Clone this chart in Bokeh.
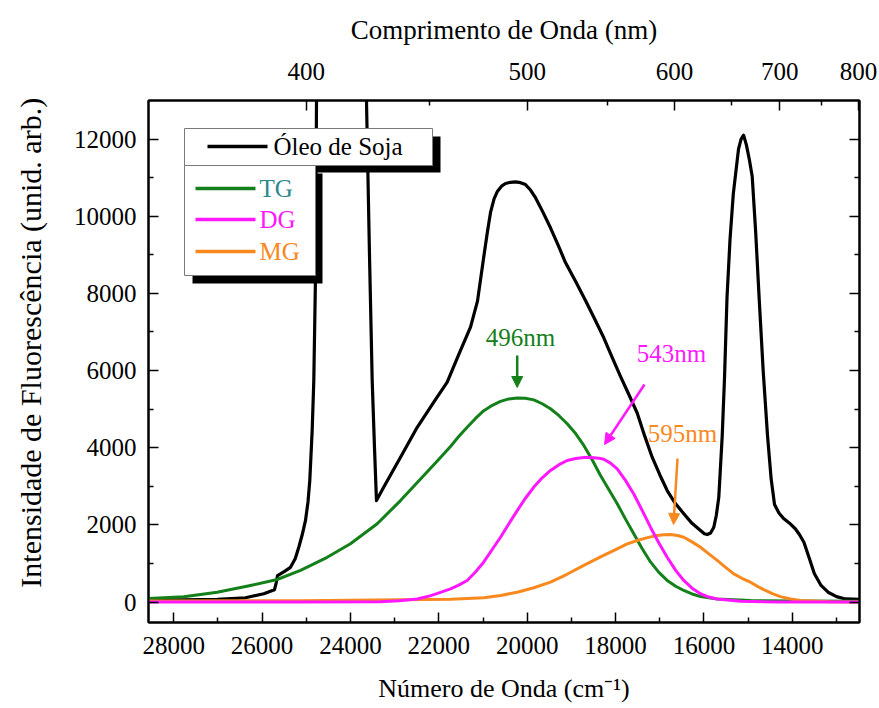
from bokeh.plotting import figure
from bokeh.models import (Range1d, LinearAxis, FixedTicker, CustomJSTickFormatter,
                          Arrow, NormalHead, Label, BoxAnnotation)
from bokeh.embed import file_html
from bokeh.resources import INLINE

FONT = "Liberation Serif"

# ---------------- data ----------------
soy_x = [28570, 27771, 27015, 26375, 25961, 25719, 25680, 25650, 25500, 25357, 25250, 25169,
         25090, 25017, 24960, 24920, 24866, 24829, 24790, 24768, 24650, 24200, 23750, 23637,
         23569, 23508, 23456, 23411, 23245, 22867, 22489, 22114, 21810, 21555, 21283, 21125,
         20989, 20900, 20830, 20750, 20672, 20580, 20491, 20380, 20265, 20150, 20039, 19925,
         19812, 19650, 19473, 19300, 19134, 18900, 18681, 18470, 18267, 18080, 17889, 17700,
         17511, 17340, 17172, 17000, 16832, 16650, 16456, 16270, 16078, 15990, 15926, 15850,
         15777, 15720, 15664, 15587, 15535, 15478, 15410, 15336, 15218, 15160, 15103, 15040,
         14970, 14908, 14830, 14752, 14660, 14562, 14480, 14403, 14300, 14204, 14070, 13933,
         13840, 13738, 13620, 13503, 13350, 13191, 13000, 12801, 12480]
soy_y = [60, 60, 70, 110, 215, 320, 500, 685, 790, 900, 1120, 1420,
         1750, 2115, 2600, 3150, 4450, 5750, 8500, 13000, 16500, 20000, 16500, 13000,
         9000, 5750, 4010, 2630, 2980, 3755, 4530, 5180, 5700, 6400, 7125, 7800,
         8900, 9600, 10100, 10450, 10650, 10780, 10850, 10880, 10890, 10870, 10820, 10680,
         10480, 10120, 9700, 9250, 8800, 8300, 7816, 7330, 6850, 6350, 5850, 5380,
         4900, 4300, 3755, 3300, 2890, 2560, 2290, 2040, 1855, 1770, 1750, 1790,
         1940, 2250, 2720, 4300, 5800, 7900, 9400, 10580, 11740, 12000, 12100, 11850,
         11450, 11030, 9600, 7900, 6000, 4320, 3200, 2530, 2300, 2175, 2050, 1900,
         1750, 1550, 1150, 740, 430, 255, 140, 80, 70]

tg_x = [28570, 27771, 27015, 26262, 25658, 25130, 24526, 24000, 23394, 22867, 22340, 22040,
        21736, 21550, 21358, 21170, 20982, 20790, 20604, 20415, 20226, 20040, 19850, 19660,
        19473, 19280, 19095, 18900, 18719, 18530, 18341, 18150, 17963, 17775, 17588, 17400,
        17210, 17020, 16832, 16640, 16456, 16270, 16078, 15700, 14947, 13815, 12480]
tg_y = [90, 140, 255, 430, 585, 820, 1160, 1510, 2030, 2630, 3280, 3650,
        4030, 4290, 4530, 4760, 4960, 5100, 5200, 5265, 5290, 5280, 5240, 5140,
        5010, 4830, 4620, 4360, 4060, 3690, 3280, 2910, 2550, 2150, 1770, 1390,
        1040, 770, 560, 410, 300, 210, 145, 80, 40, 25, 20]

dg_x = [28570, 25130, 23320, 22900, 22489, 22200, 21962, 21736, 21550, 21358, 21170, 20982,
        20800, 20604, 20415, 20226, 20040, 19850, 19660, 19473, 19280, 19095, 18900, 18719,
        18600, 18493, 18380, 18267, 18115, 17963, 17780, 17588, 17400, 17210, 17020, 16832,
        16640, 16456, 16270, 16078, 15890, 15700, 15174, 14270, 12480]
dg_y = [0, 0, 10, 35, 80, 160, 250, 340, 440, 560, 780, 1040,
        1350, 1680, 2030, 2370, 2690, 2980, 3220, 3410, 3560, 3670, 3720, 3745,
        3750, 3740, 3730, 3700, 3600, 3450, 3160, 2800, 2380, 1940, 1530, 1160,
        820, 560, 360, 215, 130, 80, 20, 0, 0]

mg_x = [28570, 25130, 21736, 21350, 20982, 20600, 20226, 19850, 19473, 19100, 18719, 18340,
        17963, 17750, 17511, 17280, 17058, 16900, 16757, 16600, 16456, 16270, 16078, 15890,
        15700, 15510, 15325, 15130, 14947, 14780, 14607, 14440, 14270, 14040, 13815, 13135,
        12480]
mg_y = [30, 35, 70, 90, 110, 170, 255, 370, 515, 720, 950, 1170,
        1380, 1500, 1595, 1670, 1725, 1745, 1750, 1725, 1680, 1560, 1420, 1250,
        1080, 900, 730, 610, 515, 400, 300, 210, 140, 80, 40, 10,
        0]

x_ticks = [14000, 16000, 18000, 20000, 22000, 24000, 26000, 28000]
x_minor = [13000, 15000, 17000, 19000, 21000, 23000, 25000, 27000]
y_ticks = [0, 2000, 4000, 6000, 8000, 10000, 12000]
y_minor = [1000, 3000, 5000, 7000, 9000, 11000]
nm_ticks = [400, 500, 600, 700, 800]
nm_minor = [450, 550, 650, 750]

series_names = ["Óleo de Soja", "TG", "DG", "MG"]

# ---------------- layout ----------------
W, H = 879, 708
FL, FR, FT, FB = 148, 859, 100, 622
X_LEFT, X_RIGHT = 28570, 12480
Y_MIN, Y_MAX = -530, 13000

def px_x(px):
    return X_LEFT + (px - FL) / (FR - FL) * (X_RIGHT - X_LEFT)

def py_y(py):
    return Y_MAX - (py - FT) / (FB - FT) * (Y_MAX - Y_MIN)

C_BLACK = "#000000"
C_GREEN = "#13801a"
C_MAG = "#ff18ff"
C_ORANGE = "#f7891f"
C_TEAL = "#2a8a8a"

p = figure(width=W, height=H, output_backend="svg", toolbar_location=None,
           x_range=Range1d(X_LEFT, X_RIGHT), y_range=Range1d(Y_MIN, Y_MAX),
           x_axis_location=None, y_axis_location=None,
           min_border_left=FL, min_border_right=W - FR,
           min_border_top=FT, min_border_bottom=H - FB,
           background_fill_color="white", border_fill_color="white")
p.grid.visible = False
p.outline_line_color = "black"
p.outline_line_width = 2

def style(ax, title_size="25px"):
    ax.axis_line_width = 2
    ax.axis_line_color = "black"
    ax.major_tick_in = 10
    ax.major_tick_out = 0
    ax.minor_tick_in = 5
    ax.minor_tick_out = 0
    ax.major_tick_line_width = 1.5
    ax.minor_tick_line_width = 1.5
    ax.major_tick_line_color = "black"
    ax.minor_tick_line_color = "black"
    ax.major_label_text_font = FONT
    ax.major_label_text_font_size = "25px"
    ax.major_label_text_color = "black"
    ax.axis_label_text_font = FONT
    ax.axis_label_text_font_size = title_size
    ax.axis_label_text_font_style = "normal"
    ax.axis_label_text_color = "black"

# the y title sits a little above the frame centre in the reference: pad its start
Y_TITLE = "\u00a0" * 5 + "Intensidade de Fluorescência (unid. arb.)"

bottom = LinearAxis(ticker=FixedTicker(ticks=x_ticks, minor_ticks=x_minor),
                    axis_label="Número de Onda (cm\u207b\u00b9)",
                    major_label_standoff=14, axis_label_standoff=17)
left = LinearAxis(ticker=FixedTicker(ticks=y_ticks, minor_ticks=y_minor),
                  axis_label=Y_TITLE,
                  major_label_standoff=12, axis_label_standoff=24)
top = LinearAxis(ticker=FixedTicker(ticks=[1e7 / w for w in nm_ticks],
                                    minor_ticks=[1e7 / w for w in nm_minor]),
                 formatter=CustomJSTickFormatter(code="return (1e7 / tick).toFixed(0);"),
                 axis_label="Comprimento de Onda (nm)",
                 major_label_standoff=21, axis_label_standoff=15)
right = LinearAxis(ticker=FixedTicker(ticks=y_ticks, minor_ticks=y_minor),
                   formatter=CustomJSTickFormatter(code="return '';"),
                   major_label_standoff=0)
style(bottom, "26px")
style(left, "30px")
style(top, "27px")
style(right)
p.add_layout(bottom, "below")
p.add_layout(left, "left")
p.add_layout(top, "above")
p.add_layout(right, "right")

# ---------------- curves ----------------
p.line(soy_x, soy_y, line_color=C_BLACK, line_width=3.2, line_join="round")
p.line(tg_x, tg_y, line_color=C_GREEN, line_width=3, line_join="round")
p.line(mg_x, mg_y, line_color=C_ORANGE, line_width=3, line_join="round")
p.line(dg_x, dg_y, line_color=C_MAG, line_width=3, line_join="round")

# ---------------- peak annotations ----------------
annots = [
    # text, colour, text px pos, arrow start px, arrow end px
    ("496nm", C_GREEN, (520, 337), (516.7, 355), (516.7, 387)),
    ("543nm", C_MAG, (671, 353), (644, 384), (604, 444)),
    ("595nm", C_ORANGE, (682, 433), (677, 458), (673, 524)),
]
for txt, col, tpos, a0, a1 in annots:
    p.add_layout(Label(x=px_x(tpos[0]), y=py_y(tpos[1]), text=txt, text_color=col,
                       text_font=FONT, text_font_size="25px",
                       text_align="center", text_baseline="middle"))
    p.add_layout(Arrow(x_start=px_x(a0[0]), y_start=py_y(a0[1]),
                       x_end=px_x(a1[0]), y_end=py_y(a1[1]),
                       line_color=col, line_width=2.5,
                       end=NormalHead(size=11, fill_color=col, line_color=col, line_width=1)))

# ---------------- legend (two boxes with drop shadows) ----------------
def box(l, r, t, b, fill, line):
    p.add_layout(BoxAnnotation(left=px_x(l), right=px_x(r), top=py_y(t), bottom=py_y(b),
                               fill_color=fill, fill_alpha=1.0,
                               line_color=line, line_width=1, line_alpha=1.0 if line else 0))

box(192, 440, 136, 172, "black", None)
box(184, 432, 128, 165, "white", "#7a7a7a")
box(192, 322, 173, 283, "black", None)
box(184, 315, 165, 275, "white", "#7a7a7a")

leg_items = [
    (series_names[0], C_BLACK, C_BLACK, 207, 267, 146, 273),
    (series_names[1], C_GREEN, C_TEAL, 195, 255, 188, 259),
    (series_names[2], C_MAG, C_MAG, 195, 255, 219, 259),
    (series_names[3], C_ORANGE, C_ORANGE, 195, 255, 251, 259),
]
for name, lc, tc, x0, x1, yy, tx in leg_items:
    p.add_layout(Arrow(x_start=px_x(x0), y_start=py_y(yy), x_end=px_x(x1), y_end=py_y(yy),
                       start=None, end=None, line_color=lc, line_width=3.5))
    p.add_layout(Label(x=px_x(tx), y=py_y(yy), text=name, text_color=tc,
                       text_font=FONT, text_font_size="25px",
                       text_align="left", text_baseline="middle"))

open("out.html", "w").write(file_html(p, INLINE))
